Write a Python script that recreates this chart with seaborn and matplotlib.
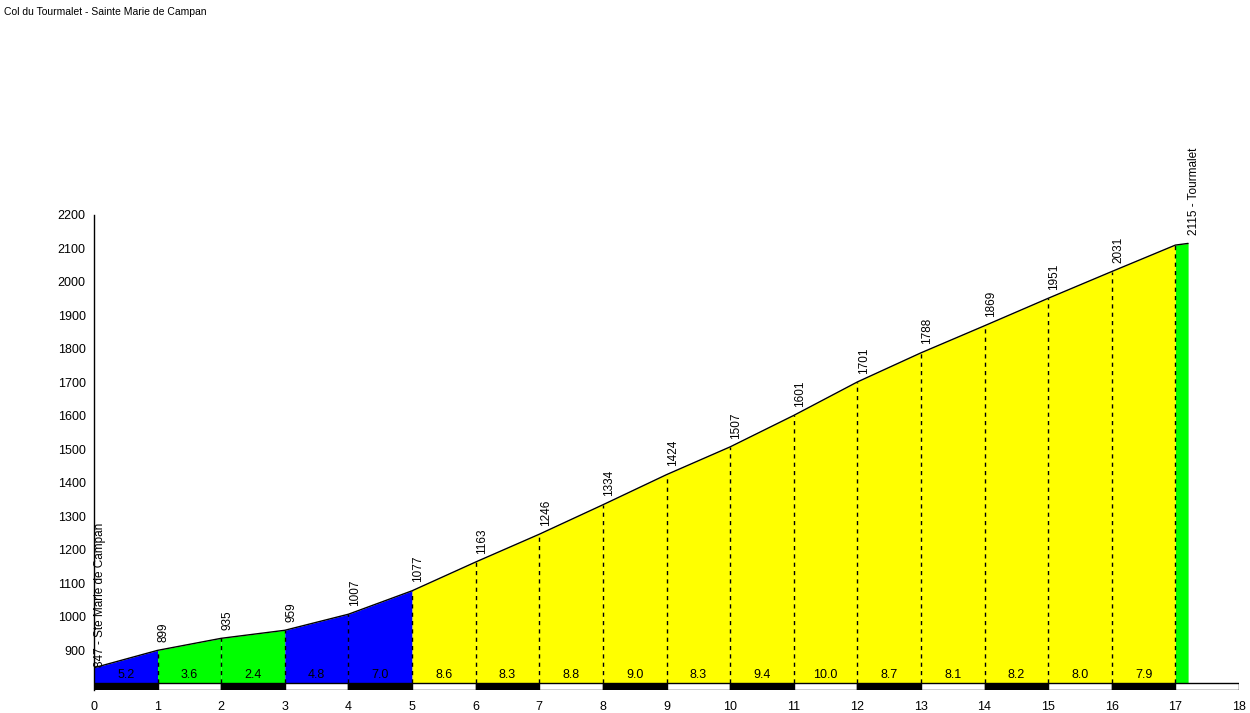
import numpy as np
import matplotlib
matplotlib.use("Agg")
import matplotlib.pyplot as plt
import seaborn as sns
import pandas as pd

# profile data
km = [0, 1, 2, 3, 4, 5, 6, 7, 8, 9, 10, 11, 12, 13, 14, 15, 16, 17, 17.2]
elev = [847, 899, 935, 959, 1007, 1077, 1163, 1246, 1334, 1424, 1507,
        1601, 1701, 1788, 1869, 1951, 2031, 2110, 2115]
start_name = "Ste Marie de Campan"
end_name = "Tourmalet"
title = "Col du Tourmalet - Sainte Marie de Campan"
yticks = [900, 1000, 1100, 1200, 1300, 1400, 1500, 1600, 1700, 1800, 1900, 2000, 2100, 2200]
xticks = list(range(0, 19))

profile = pd.DataFrame({"km": km, "elev": elev})
grade = np.diff(elev) / (np.diff(km) * 10)


def grade_color(g):
    if g < 4:
        return "#00ff00"
    if g < 7.5:
        return "#0000ff"
    return "#ffff00"


sns.set_style("white")
plt.rcParams["font.family"] = ["Liberation Sans", "DejaVu Sans"]
plt.rcParams["text.color"] = "black"
plt.rcParams["xtick.labelcolor"] = "black"
plt.rcParams["ytick.labelcolor"] = "black"

fig = plt.figure(figsize=(12.5, 7.13), dpi=100)
ax = fig.add_axes([0.0752, 0.032, 0.916, 0.6665])

base = 800
for i in range(len(km) - 1):
    ax.fill_between(km[i:i + 2], base, elev[i:i + 2], color=grade_color(grade[i]), lw=0)

sns.lineplot(data=profile, x="km", y="elev", color="black", lw=1, ax=ax)

# dashed km markers + grade labels
for i in range(1, len(km) - 1):
    ax.vlines(km[i], base, elev[i], colors="black", linestyles=(0, (3, 3)), lw=1)
for i in range(len(km) - 2):
    ax.text((km[i] + km[i + 1]) / 2, 808, f"{grade[i]:.1f}", ha="center",
            va="bottom", fontsize=9, color="black")

# scale bar under the profile
bar_colors = ["black" if k % 2 == 0 else "white" for k in xticks[:-1]]
ax.bar(xticks[:-1], 18, width=1, bottom=782, align="edge", color=bar_colors,
       edgecolor="black", lw=1)

# elevation labels
for i in range(1, len(km) - 2):
    ax.text(km[i] + 0.1, elev[i] + 25, str(elev[i]), rotation=90, ha="center",
            va="bottom", fontsize=8.5)
ax.text(km[0] + 0.09, elev[0] + 2, f"{elev[0]} - {start_name}", rotation=90,
        ha="center", va="bottom", fontsize=8.5)
ax.text(km[-1] + 0.1, elev[-1] + 25, f"{elev[-1]} - {end_name}", rotation=90,
        ha="center", va="bottom", fontsize=8.5)

ax.set_xlim(0, 18)
ax.set_ylim(780, 2200)
ax.set_xticks(xticks)
ax.set_yticks(yticks)
ax.set_xlabel("")
ax.set_ylabel("")
ax.tick_params(axis="y", direction="in", color="red", length=4, width=1,
               labelsize=9, pad=6, labelcolor="black")
ax.tick_params(axis="x", length=0, labelsize=9, pad=8, labelcolor="black")
for s in ["top", "right", "bottom"]:
    ax.spines[s].set_visible(False)
ax.spines["left"].set_color("black")
ax.spines["left"].set_linewidth(1)
ax.spines["left"].set_bounds(782, 2200)

fig.text(0.003, 0.983, title, fontsize=7.5, ha="left", va="center",
         family=["Liberation Sans Narrow", "Liberation Sans"], color="black")

fig.savefig("out.png", dpi=100)
